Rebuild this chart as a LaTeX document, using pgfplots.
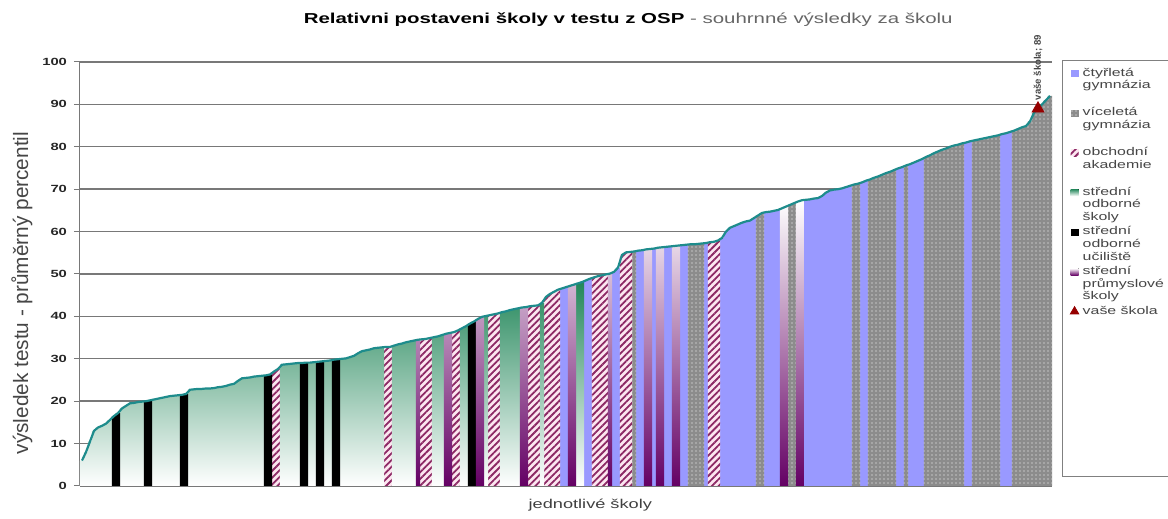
\documentclass[border=0pt]{standalone}
\usepackage{fontspec}
\setmainfont[FakeStretch=1.42]{Liberation Sans}
\newfontfamily\plainsans{Liberation Sans}
\usepackage{pgfplots}
\pgfplotsset{compat=1.18}
\usepackage{pgfplotstable}
\usetikzlibrary{patterns,patterns.meta}

\definecolor{gymfour}{RGB}{153,153,255}
\definecolor{gymmulti}{RGB}{140,140,140}
\definecolor{oastripe}{RGB}{140,40,100}
\definecolor{oaback}{RGB}{252,230,240}
\definecolor{sosgreen}{RGB}{35,135,90}
\definecolor{spsviolet}{RGB}{100,0,100}
\definecolor{envline}{RGB}{30,140,140}
\definecolor{ourschool}{RGB}{150,0,0}
\definecolor{gridgray}{RGB}{120,120,120}
\definecolor{labelgray}{RGB}{70,70,70}

% x = poradi skoly, y = prumerny percentil, t = typ skoly
% t: 1 ctyrleta gym, 2 vicileta gym, 3 OA, 4 SOS, 5 SOU, 6 SPS
\pgfplotstableread{
x y t
1 6.0 4
2 8.0 4
3 10.5 4
4 13.0 4
5 13.8 4
6 14.2 4
7 14.7 4
8 15.6 4
9 16.5 5
10 17.2 5
11 18.3 4
12 18.9 4
13 19.5 4
14 19.6 4
15 19.8 4
16 19.9 4
17 20.0 5
18 20.2 5
19 20.4 4
20 20.6 4
21 20.8 4
22 21.0 4
23 21.2 4
24 21.3 4
25 21.4 4
26 21.5 5
27 21.7 5
28 22.7 4
29 22.8 4
30 22.9 4
31 22.9 4
32 23.0 4
33 23.0 4
34 23.1 4
35 23.3 4
36 23.4 4
37 23.6 4
38 23.9 4
39 24.1 4
40 24.8 4
41 25.4 4
42 25.5 4
43 25.6 4
44 25.8 4
45 25.9 4
46 26.0 4
47 26.1 5
48 26.3 5
49 27.0 3
50 27.6 3
51 28.6 4
52 28.7 4
53 28.8 4
54 28.9 4
55 29.0 4
56 29.0 5
57 29.1 5
58 29.1 4
59 29.2 4
60 29.3 5
61 29.4 5
62 29.5 4
63 29.6 4
64 29.8 5
65 29.9 5
66 30.0 4
67 30.1 4
68 30.4 4
69 30.7 4
70 31.3 4
71 31.8 4
72 32.0 4
73 32.2 4
74 32.5 4
75 32.6 4
76 32.7 4
77 32.8 3
78 32.8 3
79 33.1 4
80 33.4 4
81 33.6 4
82 33.9 4
83 34.1 4
84 34.3 4
85 34.5 6
86 34.6 3
87 34.7 3
88 34.9 3
89 35.1 4
90 35.3 4
91 35.6 4
92 35.9 6
93 36.1 6
94 36.3 3
95 36.7 3
96 37.2 4
97 37.7 4
98 38.3 5
99 38.8 5
100 39.4 6
101 39.9 6
102 40.1 4
103 40.3 3
104 40.5 3
105 40.7 3
106 41.0 4
107 41.2 4
108 41.5 4
109 41.7 4
110 41.9 4
111 42.1 6
112 42.2 6
113 42.4 3
114 42.5 3
115 42.6 3
116 43.2 4
117 44.6 3
118 45.3 3
119 45.8 3
120 46.3 3
121 46.6 1
122 46.9 1
123 47.2 6
124 47.5 6
125 47.8 4
126 48.1 4
127 48.5 1
128 48.9 1
129 49.2 3
130 49.5 3
131 49.7 3
132 49.9 3
133 50.1 6
134 50.5 1
135 51.5 1
136 54.5 3
137 55.1 3
138 55.2 3
139 55.3 2
140 55.5 1
141 55.6 1
142 55.8 6
143 55.9 6
144 56.0 1
145 56.2 6
146 56.3 6
147 56.4 1
148 56.5 1
149 56.6 6
150 56.7 6
151 56.8 1
152 56.9 1
153 57.0 2
154 57.0 2
155 57.1 2
156 57.2 2
157 57.3 1
158 57.5 3
159 57.6 3
160 57.9 3
161 58.5 1
162 60.0 1
163 60.9 1
164 61.3 1
165 61.7 1
166 62.1 1
167 62.4 1
168 62.6 1
169 63.2 1
170 63.8 2
171 64.4 2
172 64.6 1
173 64.7 1
174 64.9 1
175 65.1 1
176 65.5 6
177 65.9 6
178 66.3 2
179 66.7 2
180 67.1 6
181 67.4 6
182 67.5 1
183 67.6 1
184 67.8 1
185 67.9 1
186 68.4 1
187 69.2 1
188 69.7 1
189 69.9 1
190 70.0 1
191 70.2 1
192 70.5 1
193 70.8 1
194 71.1 2
195 71.3 2
196 71.6 1
197 72.0 1
198 72.3 2
199 72.7 2
200 73.0 2
201 73.4 2
202 73.8 2
203 74.1 2
204 74.5 2
205 74.9 1
206 75.2 1
207 75.6 2
208 75.9 1
209 76.3 1
210 76.7 1
211 77.1 1
212 77.6 2
213 78.0 2
214 78.5 2
215 78.9 2
216 79.3 2
217 79.6 2
218 80.0 2
219 80.3 2
220 80.5 2
221 80.8 2
222 81.0 1
223 81.3 1
224 81.5 2
225 81.7 2
226 81.9 2
227 82.1 2
228 82.3 2
229 82.5 2
230 82.7 2
231 83.0 1
232 83.2 1
233 83.5 1
234 83.8 2
235 84.2 2
236 84.6 2
237 84.9 2
238 86.0 2
239 88.0 2
240 89.0 2
241 90.0 2
242 91.0 2
243 92.0 2
}\schools

\pgfplotsset{
  only type/.style={restrict expr to domain={\thisrow{t}}{#1:#1}},
  schoolbar/.style={bar shift=0pt, draw=none},
  arealeg/.style={legend image code/.code={\fill[##1] (0pt,-1.75pt) rectangle (4pt,1.75pt);}},
  trileg/.style={legend image code/.code={\draw[##1, mark size=2.4pt] plot coordinates {(2pt,0pt)};}},
}

\begin{document}
\begin{tikzpicture}
\begin{axis}[
  name=ax,
  scale only axis,
  width=486pt, height=212pt,
  xmin=0.5, xmax=243.5, ymin=0, ymax=100,
  enlargelimits=false,
  clip=false,
  ybar, bar width=1.06,
  axis x line*=bottom, axis y line*=left,
  axis line style={-},
  x axis line style={draw=none},
  y axis line style={gridgray, line width=0.5pt},
  xtick=\empty,
  ytick={0,10,...,100},
  tick align=outside,
  major tick length=3pt,
  ytick style={gridgray, line width=0.5pt},
  ymajorgrids, grid style={gridgray, line width=0.7pt},
  /pgf/number format/assume math mode=true,
  yticklabel style={font=\bfseries\fontsize{5.2}{6}\selectfont, text=black!85},
  title={\textbf{Relativni postaveni školy v testu z OSP} {\color{black!60}- souhrnné výsledky za školu}},
  title style={at={(0.564,1.072)}, anchor=center, font=\fontsize{7.2}{8}\selectfont},
  xlabel={jednotlivé školy},
  xlabel style={at={(0.525,-0.045)}, anchor=center, font=\fontsize{6.4}{7}\selectfont, text=black!75},
  ylabel={výsledek testu - průměrný percentil},
  ylabel style={at={(-0.0597,0.455)}, anchor=center, font=\plainsans\fontsize{10.4}{11}\selectfont, text=labelgray},
  legend style={at={(1,1)}, anchor=north west, xshift=5pt, yshift=1pt,
    draw=gray, line width=0.4pt, fill=white,
    font=\fontsize{5.6}{6.3}\selectfont, text=labelgray,
    cells={anchor=west, align=left},
    nodes={inner ysep=0.8pt},
    inner xsep=4pt, inner ysep=3pt, row sep=0pt},
  arealeg,
  legend image post style={yshift=6.3pt},
]
\addplot[schoolbar, fill=gymfour, only type=1] table[x=x, y=y] \schools;
\addlegendentry{čtyřletá\\gymnázia\\\mbox{}}
\addplot[schoolbar, fill=gymmulti, postaction={pattern={Dots[distance=2pt, radius=0.3pt]}, pattern color=white}, only type=2] table[x=x, y=y] \schools;
\addlegendentry{víceletá\\gymnázia\\\mbox{}}
\addplot[schoolbar, fill=oaback, postaction={pattern={Lines[angle=45, distance=2.4pt, line width=0.9pt]}, pattern color=oastripe}, only type=3] table[x=x, y=y] \schools;
\addlegendentry{obchodní\\akademie\\\mbox{}}
\addplot[schoolbar, top color=sosgreen, middle color=sosgreen!80, bottom color=white, only type=4] table[x=x, y=y] \schools;
\addlegendentry{střední\\odborné\\školy}
\addplot[schoolbar, fill=black, only type=5] table[x=x, y=y] \schools;
\addlegendentry{střední\\odborné\\učiliště}
\addplot[schoolbar, top color=white, middle color=white!88!spsviolet, bottom color=spsviolet, only type=6] table[x=x, y=y] \schools;
\addlegendentry{střední\\průmyslové\\školy}
\addplot[forget plot, sharp plot, no marks, envline, line width=1.1pt] table[x=x, y=y] \schools;
\addplot[sharp plot, only marks, mark=triangle*, mark size=3.4pt, color=ourschool, trileg]
  coordinates {(240,89)};
\addlegendentry{vaše škola\\\mbox{}\\\mbox{}}
\addlegendimage{empty legend}
\addlegendentry{\rule{64pt}{0pt}\rule{0pt}{60pt}}
\node[rotate=90, anchor=west, inner sep=0pt, font=\plainsans\bfseries\fontsize{4.8}{5}\selectfont, text=labelgray]
  at ([yshift=4pt]axis cs:240,89) {vaše škola; 89};
\end{axis}
\pgfresetboundingbox
\path ([xshift=-40pt,yshift=-16.5pt]ax.south west) rectangle ([xshift=58pt,yshift=31pt]ax.north east);
\end{tikzpicture}
\end{document}
